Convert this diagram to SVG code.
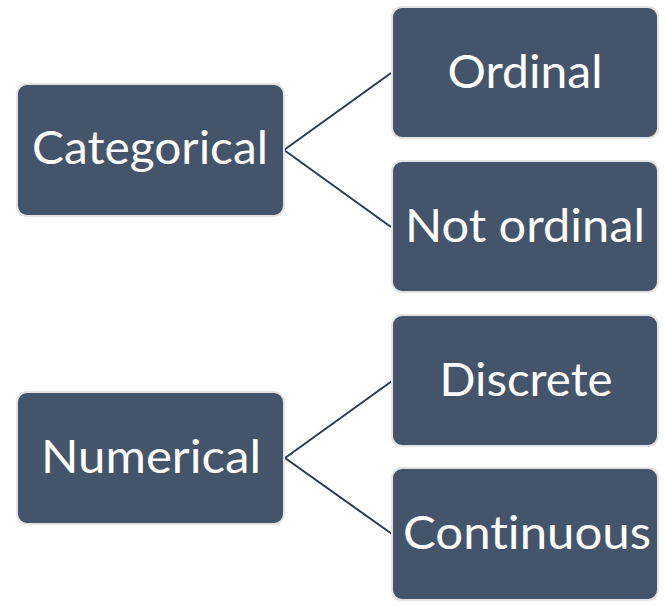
<svg xmlns="http://www.w3.org/2000/svg" width="666" height="606" viewBox="0 0 666 606">
<style>
.box{fill:#44546A;stroke:#E4E4E4;stroke-width:2}
.lbl{font-family:Lato,"Open Sans","Liberation Sans",sans-serif;font-size:46px;fill:#FFFFFF;text-anchor:middle;font-variant-ligatures:none;font-feature-settings:"liga" 0}
.con{stroke:#2C3A4E;stroke-width:2;fill:none}
</style>
<rect width="666" height="606" fill="#FFFFFF"/>
<g id="connectors">
<line class="con" x1="284" y1="150" x2="391" y2="73"/>
<line class="con" x1="284" y1="150" x2="391" y2="227"/>
<line class="con" x1="285" y1="458" x2="392" y2="381"/>
<line class="con" x1="285" y1="458" x2="392" y2="534"/>
</g>
<g id="categorical">
<rect class="box" x="17" y="84" width="267" height="132" rx="10"/>
<text class="lbl" x="150" y="164" textLength="236" lengthAdjust="spacingAndGlyphs">Categorical</text>
</g>
<g id="ordinal">
<rect class="box" x="392" y="7" width="266" height="131" rx="10"/>
<text class="lbl" x="525" y="88" textLength="155" lengthAdjust="spacingAndGlyphs">Ordinal</text>
</g>
<g id="not-ordinal">
<rect class="box" x="392" y="161" width="266" height="131" rx="10"/>
<text class="lbl" x="525" y="242" textLength="240" lengthAdjust="spacingAndGlyphs">Not ordinal</text>
</g>
<g id="numerical">
<rect class="box" x="17" y="392" width="267" height="132" rx="10"/>
<text class="lbl" x="151" y="473" textLength="220" lengthAdjust="spacingAndGlyphs">Numerical</text>
</g>
<g id="discrete">
<rect class="box" x="392" y="315" width="266" height="131" rx="10"/>
<text class="lbl" x="526" y="396" textLength="173" lengthAdjust="spacingAndGlyphs">Discrete</text>
</g>
<g id="continuous">
<rect class="box" x="392" y="468" width="266" height="132" rx="10"/>
<text class="lbl" x="527" y="549" textLength="248" lengthAdjust="spacingAndGlyphs">Continuous</text>
</g>
</svg>
